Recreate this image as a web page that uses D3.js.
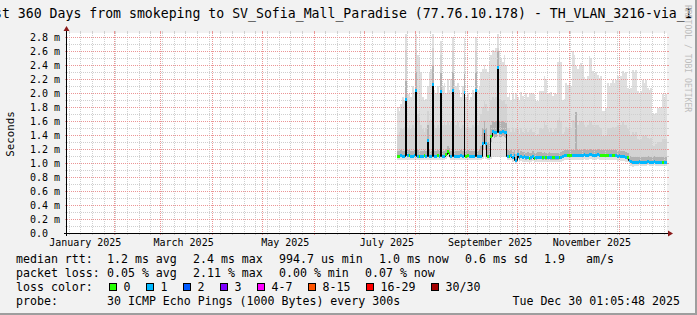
<!DOCTYPE html>
<html lang="en">
<head>
<meta charset="utf-8">
<title>smokeping 360 days</title>
<script src="https://d3js.org/d3.v7.min.js"></script>
<style>
body { margin:0; background:#f2f2f2; }
svg { display:block; }
text { font-family:"DejaVu Sans Mono", monospace; fill:#000; }
</style>
</head>
<body>
<script>
// ---- data (one value per day, starting 21 Jul 2025), milliseconds ----
var med = [
1.10,1.10,1.11,1.10,1.10,1.92,1.11,1.12,1.10,1.10,
1.11,2.05,1.10,1.10,1.10,1.10,1.11,1.10,1.33,1.10,
1.10,2.13,1.10,1.10,1.11,1.10,2.03,1.10,1.10,1.13,
1.17,1.14,1.10,2.05,1.10,1.10,1.10,1.10,1.11,1.10,
2.02,1.10,1.11,1.10,1.10,1.10,1.10,2.05,1.10,1.10,
1.10,1.29,1.46,1.29,1.10,1.10,1.39,1.46,1.44,1.45,
2.37,1.45,1.45,1.46,1.45,1.44,1.10,1.10,1.12,1.09,
1.12,1.05,1.13,1.08,1.10,1.09,1.10,1.08,1.09,1.07,
1.08,1.10,1.07,1.08,1.09,1.09,1.09,1.08,1.09,1.08,
1.08,1.09,1.08,1.08,1.08,1.08,1.08,1.08,1.09,1.10,
1.11,1.12,1.12,1.12,1.12,1.12,1.12,1.12,1.12,1.11,
1.12,1.12,1.13,1.12,1.12,1.13,1.13,1.12,1.12,1.12,
1.13,1.12,1.11,1.11,1.12,1.11,1.11,1.11,1.11,1.11,
1.11,1.11,1.10,1.11,1.10,1.10,1.10,1.09,1.08,1.05,
1.03,1.01,1.02,1.02,1.02,1.03,1.02,1.02,1.02,1.02,
1.03,1.02,1.02,1.02,1.03,1.02,1.02,1.02,1.02,1.02,
1.02,1.02];

// loss colour class per day: 0 = no loss, 1 = 1/30
var loss = [
0,0,1,1,1,1,1,0,1,1,
1,1,1,0,1,1,0,1,1,1,
1,1,1,1,0,1,1,1,1,0,
0,0,1,1,1,1,1,1,1,1,
1,0,0,1,1,1,1,1,1,1,
1,1,1,1,0,1,0,1,1,1,
1,1,1,1,1,1,1,0,1,1,
1,1,1,1,1,1,1,1,1,0,
1,1,0,1,1,1,1,0,1,0,
1,1,1,0,0,1,1,0,1,1,
1,1,0,0,0,1,1,1,1,1,
1,1,1,1,1,1,1,1,1,1,
1,1,0,0,0,0,0,1,1,0,
0,1,1,1,1,1,1,1,0,1,
1,1,1,1,1,1,1,1,1,1,
1,1,1,1,1,1,1,1,1,0,
1,1];

// smoke: slowest ping
var hi = [
1.80,1.75,1.85,1.95,1.90,2.84,1.98,2.00,1.95,2.10,
2.02,2.84,2.55,2.50,2.30,1.95,1.90,1.92,2.10,2.30,
2.35,2.84,2.05,2.00,2.10,2.00,2.75,2.10,2.15,2.00,
2.20,2.05,2.20,2.80,2.20,2.10,2.15,2.05,1.95,2.10,
2.78,1.95,2.00,1.90,1.95,2.05,2.00,2.80,2.05,2.10,
2.30,2.35,2.40,2.35,2.30,2.45,2.55,2.62,2.60,2.65,
2.84,2.60,2.50,2.45,2.55,2.40,1.95,2.00,1.90,1.98,
1.92,2.00,1.95,1.88,2.02,1.96,1.90,2.00,1.94,1.98,
2.00,2.00,1.98,1.88,1.88,2.03,2.03,2.03,2.24,2.20,
2.00,1.98,2.02,1.96,2.00,1.98,2.45,2.50,2.45,1.90,
1.92,2.14,2.12,2.14,2.10,2.60,2.55,2.38,2.35,2.38,
2.43,2.40,2.23,2.20,2.25,2.53,2.50,2.31,2.28,2.30,
2.26,2.22,2.25,1.75,1.75,1.78,2.14,2.10,2.14,2.19,
2.15,2.19,2.24,2.20,2.24,2.31,2.28,2.30,2.07,2.05,
2.07,2.33,2.30,2.33,2.03,2.00,2.03,2.19,2.15,2.19,
2.07,2.05,2.07,1.71,1.70,1.72,1.79,1.78,1.80,1.98,
1.95,1.98];

// smoke: 90th percentile
var p90 = [
1.40,1.45,1.50,1.48,1.52,2.62,1.50,1.55,1.48,1.55,
1.50,2.62,1.70,1.65,1.55,1.48,1.45,1.50,1.75,1.60,
1.62,2.64,1.55,1.50,1.55,1.50,2.55,1.55,1.60,1.55,
1.60,1.55,1.58,2.60,1.60,1.55,1.58,1.52,1.48,1.55,
2.58,1.50,1.52,1.48,1.50,1.55,1.52,2.60,1.55,1.60,
1.70,1.80,1.88,1.85,1.75,1.80,1.90,1.95,1.92,1.95,
2.65,1.92,1.90,1.88,1.90,1.85,1.50,1.48,1.45,1.50,
1.45,1.50,1.48,1.42,1.50,1.45,1.42,1.48,1.45,1.47,
1.48,1.45,1.45,1.40,1.42,1.48,1.50,1.48,1.60,1.55,
1.48,1.45,1.50,1.45,1.48,1.50,1.62,1.65,1.60,1.42,
1.45,1.52,1.50,1.52,1.50,1.62,1.60,1.73,1.55,1.58,
1.60,1.58,1.55,1.52,1.55,1.62,1.60,1.55,1.52,1.55,
1.55,1.52,1.50,1.38,1.38,1.40,1.50,1.48,1.50,1.52,
1.50,1.52,1.55,1.52,1.55,1.58,1.55,1.55,1.48,1.45,
1.40,1.45,1.42,1.45,1.35,1.33,1.35,1.40,1.38,1.40,
1.36,1.35,1.36,1.25,1.25,1.27,1.30,1.28,1.30,1.35,
1.33,1.35];

// smoke: 75th percentile
var p75 = [
1.17,1.17,1.18,1.17,1.17,2.17,1.18,1.19,1.17,1.17,
1.18,2.30,1.18,1.17,1.17,1.17,1.18,1.17,1.55,1.18,
1.17,2.38,1.17,1.17,1.18,1.17,2.28,1.17,1.17,1.20,
1.24,1.21,1.17,2.30,1.17,1.17,1.17,1.17,1.18,1.17,
2.27,1.17,1.18,1.17,1.17,1.17,1.17,2.30,1.17,1.18,
1.25,1.50,1.60,1.50,1.30,1.30,1.55,1.60,1.58,1.60,
2.60,1.60,1.58,1.60,1.58,1.57,1.18,1.17,1.19,1.16,
1.19,1.13,1.20,1.15,1.17,1.16,1.17,1.15,1.16,1.14,
1.15,1.17,1.14,1.15,1.16,1.16,1.16,1.15,1.16,1.15,
1.15,1.16,1.15,1.15,1.15,1.15,1.15,1.15,1.16,1.17,
1.18,1.19,1.19,1.19,1.19,1.19,1.19,1.73,1.19,1.18,
1.19,1.19,1.20,1.19,1.19,1.20,1.20,1.19,1.19,1.19,
1.20,1.19,1.18,1.18,1.19,1.18,1.18,1.18,1.18,1.18,
1.18,1.18,1.17,1.18,1.17,1.17,1.17,1.16,1.15,1.12,
1.10,1.08,1.09,1.09,1.09,1.10,1.09,1.09,1.09,1.09,
1.10,1.09,1.09,1.09,1.10,1.09,1.09,1.09,1.09,1.09,
1.09,1.09];

// smoke: 25th percentile
var p25 = [
1.07,1.07,1.08,1.07,1.07,1.60,1.08,1.09,1.07,1.07,
1.08,1.70,1.07,1.07,1.07,1.07,1.08,1.07,1.15,1.07,
1.07,1.75,1.07,1.07,1.08,1.07,1.65,1.07,1.07,1.10,
1.13,1.11,1.07,1.70,1.07,1.07,1.07,1.07,1.08,1.07,
1.65,1.07,1.08,1.07,1.07,1.07,1.07,1.70,1.07,1.07,
1.07,1.20,1.38,1.20,1.07,1.07,1.30,1.38,1.36,1.37,
1.90,1.37,1.37,1.38,1.37,1.36,1.07,1.07,1.09,1.06,
1.09,1.02,1.10,1.05,1.07,1.06,1.07,1.05,1.06,1.04,
1.05,1.07,1.04,1.05,1.06,1.06,1.06,1.05,1.06,1.05,
1.05,1.06,1.05,1.05,1.05,1.05,1.05,1.05,1.06,1.07,
1.08,1.09,1.09,1.09,1.09,1.09,1.09,1.09,1.09,1.08,
1.09,1.09,1.10,1.09,1.09,1.10,1.10,1.09,1.09,1.09,
1.10,1.09,1.08,1.08,1.09,1.08,1.08,1.08,1.08,1.08,
1.08,1.08,1.07,1.08,1.07,1.07,1.07,1.06,1.05,1.02,
1.00,0.98,0.99,0.99,0.99,1.00,0.99,0.99,0.99,0.99,
1.00,0.99,0.99,0.99,1.00,0.99,0.99,0.99,0.99,0.99,
0.99,0.99];

// smoke: fastest ping
var lo = [
1.04,1.04,1.05,1.04,1.04,1.05,1.05,1.05,1.04,1.04,
1.05,1.05,1.04,1.04,1.04,1.04,1.05,1.04,1.05,1.04,
1.04,1.05,1.04,1.04,1.05,1.04,1.05,1.04,1.04,1.06,
1.08,1.07,1.04,1.05,1.04,1.04,1.04,1.04,1.05,1.04,
1.05,1.04,1.05,1.04,1.04,1.04,1.04,1.05,1.04,1.04,
1.04,1.06,1.08,1.06,1.04,1.04,1.06,1.08,1.08,1.08,
1.08,1.08,1.08,1.08,1.08,1.08,1.04,1.04,1.05,1.02,
1.05,0.99,1.06,1.01,1.03,1.02,1.03,1.01,1.02,1.00,
1.01,1.03,1.00,1.01,1.02,1.02,1.02,1.01,1.02,1.01,
1.01,1.02,1.01,1.01,1.01,1.01,1.01,1.01,1.02,1.03,
1.04,1.05,1.05,1.05,1.05,1.05,1.05,1.05,1.05,1.04,
1.05,1.05,1.06,1.05,1.05,1.06,1.06,1.05,1.05,1.05,
1.06,1.05,1.04,1.04,1.05,1.04,1.04,1.04,1.04,1.04,
1.04,1.04,1.03,1.04,1.03,1.03,1.03,1.02,1.01,0.98,
0.96,0.95,0.96,0.96,0.96,0.97,0.96,0.96,0.96,0.96,
0.97,0.96,0.96,0.96,0.97,0.96,0.96,0.96,0.96,0.96,
0.96,0.96];

var yTickValues = [0,0.2,0.4,0.6,0.8,1.0,1.2,1.4,1.6,1.8,2.0,2.2,2.4,2.6,2.8];
var yTickLabels = ["0.0","0.2 m","0.4 m","0.6 m","0.8 m","1.0 m","1.2 m","1.4 m",
                   "1.6 m","1.8 m","2.0 m","2.2 m","2.4 m","2.6 m","2.8 m"];
var xTickDates = ["2025-01-15","2025-03-15","2025-05-15","2025-07-15","2025-09-15","2025-11-15"];
var xTickLabels = ["January 2025","March 2025","May 2025","July 2025","September 2025","November 2025"];

var lossColors = ["#26ff00","#00b8ff","#0059ff","#7e00ff","#ff00ff","#ff5500","#ff0000","#a10000"];
var lossLabels = ["0","1","2","3","4-7","8-15","16-29","30/30"];

var legendRtt = [["median rtt:",16],["1.2 ms avg",107],["2.4 ms max",193],["994.7 us min",279],
                 ["1.0 ms now",379],["0.6 ms sd",465],["1.9",544],["am/s",586]];
var legendLoss = [["packet loss:",16],["0.05 % avg",107],["2.11 % max",193],["0.00 % min",279],["0.07 % now",365]];

var title = "Last 360 Days from smokeping to SV_Sofia_Mall_Paradise (77.76.10.178) - TH_VLAN_3216-via_I";

// ---- layout ----
var w = 697, h = 315;
var x0 = 67, x1 = 667, yBot = 233, yTop = 33;

var svg = d3.select("body").append("svg").attr("width", w).attr("height", h);
svg.append("rect").attr("width", w).attr("height", h).attr("fill", "#f2f2f2");
svg.append("rect").attr("x", 0).attr("y", h-2).attr("width", w).attr("height", 2).attr("fill", "#9e9e9e");
svg.append("rect").attr("x", w-2).attr("y", 0).attr("width", 2).attr("height", h).attr("fill", "#9e9e9e");

svg.append("rect").attr("x", x0).attr("y", yTop).attr("width", x1-x0).attr("height", yBot-yTop).attr("fill", "#fff");

var xScale = d3.scaleUtc()
  .domain([new Date(Date.UTC(2025,0,4,1,5,48)), new Date(Date.UTC(2025,11,30,1,5,48))])
  .range([x0, x1]);
var yScale = d3.scaleLinear().domain([0, 200/70]).range([yBot, yTop]);
// rrdtool paints whole pixel columns
function px(t){ return Math.round(xScale(t)); }
function py(v){ return Math.round(yScale(v)); }

var rows = med.map(function(d, i){
  return {t: new Date(Date.UTC(2025,6,21+i)), med: d, loss: loss[i],
          hi: hi[i], p90: p90[i], p75: p75[i], p25: p25[i], lo: lo[i]};
});
var last = rows[rows.length-1];
var pts = rows.concat([Object.assign({}, last, {t: new Date(Date.UTC(2025,6,21+rows.length))})]);

// ---- smoke ----
function band(lowKey, highKey, color){
  var a = d3.area().curve(d3.curveStepAfter)
    .x(function(d){ return px(d.t); })
    .y0(function(d){ return yScale(d[lowKey]); })
    .y1(function(d){ return yScale(d[highKey]); });
  svg.append("path").datum(pts).attr("d", a).attr("fill", color).attr("shape-rendering", "crispEdges");
}
band("lo", "hi", "#dfdfdf");
band("p25", "p90", "#d3d3d3");
band("p25", "p75", "#b2b2b2");

// ---- grid ----
var grid = svg.append("g");
function vline(x, color){
  var xx = Math.round(x) + 0.5;
  grid.append("line").attr("x1", xx).attr("x2", xx).attr("y1", yTop).attr("y2", yBot)
    .attr("stroke", color).attr("stroke-dasharray", "1,1");
  grid.append("line").attr("x1", xx).attr("x2", xx).attr("y1", yBot).attr("y2", yBot+2).attr("stroke", color);
  grid.append("line").attr("x1", xx).attr("x2", xx).attr("y1", yTop-2).attr("y2", yTop).attr("stroke", color);
}
function hline(y, color){
  var yy = Math.round(y) + 0.5;
  grid.append("line").attr("x1", x0).attr("x2", x1).attr("y1", yy).attr("y2", yy)
    .attr("stroke", color).attr("stroke-dasharray", "1,1");
  grid.append("line").attr("x1", x0-2).attr("x2", x0).attr("y1", yy).attr("y2", yy).attr("stroke", color);
  grid.append("line").attr("x1", x1).attr("x2", x1+2).attr("y1", yy).attr("y2", yy).attr("stroke", color);
}
var dom = xScale.domain();
var months = d3.utcMonth.range(dom[0], dom[1]);
var monthX = months.map(function(m){ return Math.round(xScale(m)); });
d3.utcSunday.range(dom[0], dom[1]).forEach(function(d){
  var x = xScale(d);
  if (monthX.indexOf(Math.round(x)) < 0) vline(x, "#cfcfcf");
});
months.forEach(function(m){ vline(xScale(m), "#eb9595"); });
for (var k = 1; k <= 28; k++) {
  hline(yScale(k/10), k % 2 ? "#cfcfcf" : "#eb9595");
}

// ---- median ----
// step line; each jump is drawn in the pixel column of the higher day
var path = d3.path();
rows.forEach(function(d, i){
  var xa = px(d.t), xb = px(d3.utcDay.offset(d.t, 1));
  var y = py(d.med) + 0.5;
  var start = xa + 0.5, end = xb - 0.5;
  if (i > 0) {
    var prev = rows[i-1];
    if (d.med > prev.med) { path.lineTo(start, py(prev.med) + 0.5); path.lineTo(start, y); }
    else { path.lineTo(xa - 0.5, y); }
  } else {
    path.moveTo(start, y);
  }
  path.lineTo(end, y);
});
svg.append("path").attr("d", path.toString()).attr("fill", "none").attr("stroke", "#000").attr("stroke-width", 1);

svg.selectAll("rect.med").data(rows).enter().append("rect")
  .attr("class", "med")
  .attr("x", function(d){ return px(d.t); })
  .attr("width", function(d){ return px(d3.utcDay.offset(d.t, 1)) - px(d.t); })
  .attr("y", function(d){ return py(d.med) - 1; })
  .attr("height", 3)
  .attr("fill", function(d){ return lossColors[d.loss]; });

// ---- axes ----
svg.append("line").attr("x1", x0-3).attr("x2", x1+2).attr("y1", yBot+0.5).attr("y2", yBot+0.5).attr("stroke", "#000");
svg.append("line").attr("x1", x0-0.5).attr("x2", x0-0.5).attr("y1", yBot+3).attr("y2", yTop-3).attr("stroke", "#000");
svg.append("path").attr("d", "M"+(x1+1)+","+(yBot-2.5)+" L"+(x1+6)+","+(yBot+0.5)+" L"+(x1+1)+","+(yBot+3.5)+" Z").attr("fill", "#8a1a1a");
svg.append("path").attr("d", "M"+(x0-3.5)+","+(yTop-2)+" L"+(x0-0.5)+","+(yTop-7)+" L"+(x0+2.5)+","+(yTop-2)+" Z").attr("fill", "#8a1a1a");

svg.selectAll("text.ylab").data(yTickValues).enter().append("text")
  .attr("class", "ylab")
  .attr("x", 30)
  .attr("y", function(d){ return yScale(d) + 3.5; })
  .attr("font-size", "10px")
  .text(function(d, i){ return yTickLabels[i]; });

svg.selectAll("text.xlab").data(xTickDates).enter().append("text")
  .attr("class", "xlab")
  .attr("x", function(d){ return xScale(new Date(d + "T00:00:00Z")); })
  .attr("y", 246)
  .attr("text-anchor", "middle")
  .attr("font-size", "10px")
  .text(function(d, i){ return xTickLabels[i]; });

svg.append("text").attr("transform", "translate(14,134) rotate(-90)")
  .attr("text-anchor", "middle").attr("font-size", "10.8px").text("Seconds");

// ---- title + watermark ----
svg.append("text").attr("x", -21.9).attr("y", 17.5).attr("font-size", "13.2px").text(title);
svg.append("text").attr("transform", "translate(685,5) rotate(90)")
  .attr("font-size", "8.1px").style("fill", "#bdbdbd").text("RRDTOOL / TOBI OETIKER");

// ---- legend ----
var lfs = "11.6px";
function seg(list, y){
  list.forEach(function(s){
    svg.append("text").attr("x", s[1]).attr("y", y).attr("font-size", lfs).text(s[0]);
  });
}
seg(legendRtt, 263);
seg(legendLoss, 277);
svg.append("text").attr("x", 16).attr("y", 291).attr("font-size", lfs).text("loss color:");
var cx = 109;
lossLabels.forEach(function(l, i){
  svg.append("rect").attr("x", cx+0.5).attr("y", 283.5).attr("width", 7).attr("height", 7)
    .attr("fill", lossColors[i]).attr("stroke", "#000").attr("stroke-width", 1);
  svg.append("text").attr("x", cx+14.5).attr("y", 291).attr("font-size", lfs).text(l);
  cx += 14.5 + l.length*7 + 15.5;
});
svg.append("text").attr("x", 16).attr("y", 305).attr("font-size", lfs).text("probe:");
svg.append("text").attr("x", 107).attr("y", 305).attr("font-size", lfs).text("30 ICMP Echo Pings (1000 Bytes) every 300s");
svg.append("text").attr("x", 680).attr("y", 305).attr("text-anchor", "end").attr("font-size", lfs).text("Tue Dec 30 01:05:48 2025");
</script>
</body>
</html>
